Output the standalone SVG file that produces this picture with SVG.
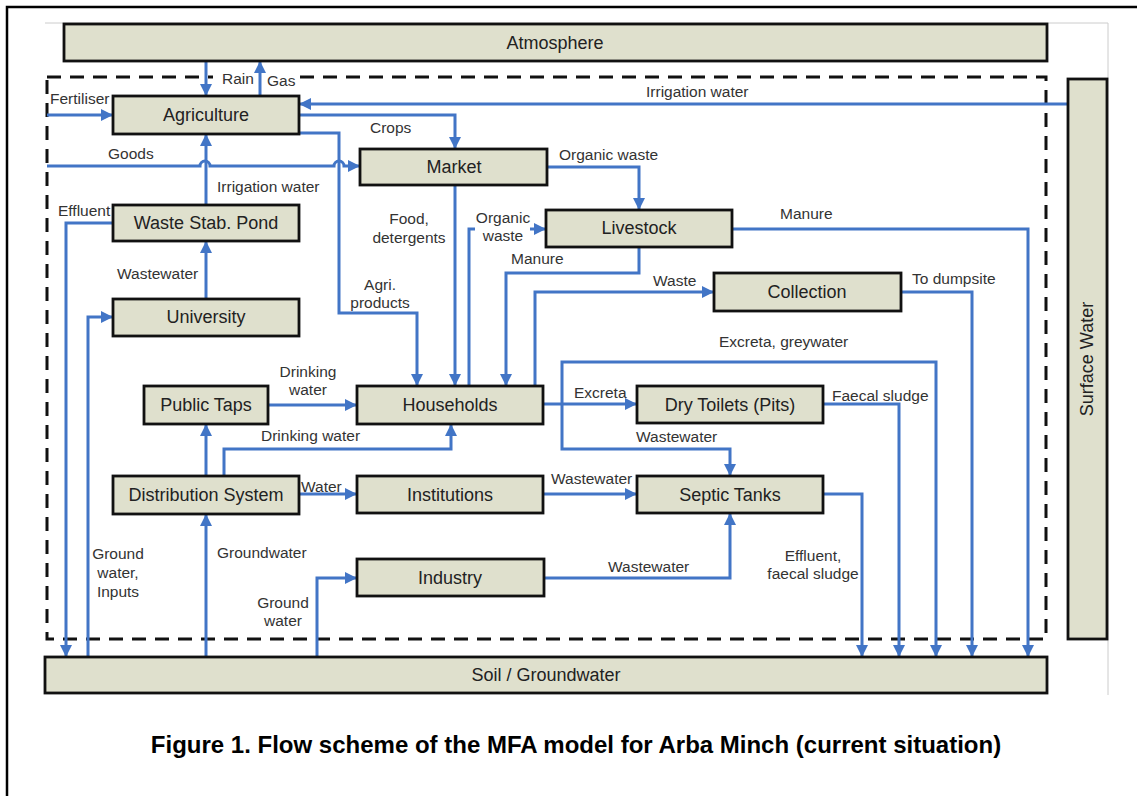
<svg xmlns="http://www.w3.org/2000/svg" width="1137" height="796" viewBox="0 0 1137 796">
<style>
.box{fill:#dfe0cd;stroke:#111;stroke-width:2.8}
.nt{font-family:"Liberation Sans",Arial,sans-serif;font-size:18px;fill:#222;text-anchor:middle}
.lb{font-family:"Liberation Sans",Arial,sans-serif;font-size:15.5px;fill:#333}
.mid{text-anchor:middle}
.fl{fill:none;stroke:#4275c6;stroke-width:3}
.ar{marker-end:url(#ah)}
</style>
<defs>
<marker id="ah" markerUnits="userSpaceOnUse" markerWidth="12" markerHeight="12" viewBox="0 0 12 12" refX="12" refY="6" orient="auto">
<path d="M0,0 L12,6 L0,12 z" fill="#4275c6"/>
</marker>
</defs>
<rect width="1137" height="796" fill="#fff"/>
<g id="frame">
<path d="M7,796 V7 H1137" fill="none" stroke="#000" stroke-width="2.5"/>
<path d="M45,23 H1108 V695" fill="none" stroke="#ccc" stroke-width="1"/>
<rect x="47" y="77" width="999" height="562" fill="none" stroke="#111" stroke-width="3" stroke-dasharray="14 9"/>
<rect x="213" y="71" width="86" height="13" fill="#fff"/>
</g>
<g id="connectors">
<path class="fl ar" d="M206,61 V96"/>
<path class="fl ar" d="M260,96 V61"/>
<path class="fl ar" d="M47,115 H113"/>
<path class="fl ar" d="M1068,104 H299"/>
<path class="fl ar" d="M299,115 H455 V149"/>
<path class="fl ar" d="M299,133 H339 V313 H417 V386"/>
<path class="fl ar" d="M47,166 H200 a5,5 0 0 1 10,0 H334 a5,5 0 0 1 10,0 H360"/>
<path class="fl ar" d="M206,205 V134"/>
<path class="fl ar" d="M113,223 H66 V657"/>
<path class="fl ar" d="M206,299 V241"/>
<path class="fl ar" d="M88,657 V317 H113"/>
<path class="fl ar" d="M206,657 V514"/>
<path class="fl ar" d="M317,657 V578 H357"/>
<path class="fl ar" d="M206,476 V424"/>
<path class="fl ar" d="M224,476 V449 H451 V424"/>
<path class="fl ar" d="M268,405 H357"/>
<path class="fl ar" d="M299,494 H357"/>
<path class="fl ar" d="M455,185 V386"/>
<path class="fl" d="M469,386 V229 H475"/>
<path class="fl ar" d="M530,229 H546"/>
<path class="fl ar" d="M547,167 H639 V210"/>
<path class="fl ar" d="M639,247 V273 H506 V386"/>
<path class="fl ar" d="M732,229 H1028 V657"/>
<path class="fl ar" d="M535,386 V292 H714"/>
<path class="fl ar" d="M901,292 H972 V657"/>
<path class="fl ar" d="M543,404 H637"/>
<path class="fl ar" d="M562,404 V362 H936 V657"/>
<path class="fl ar" d="M562,404 V449 H730 V476"/>
<path class="fl ar" d="M823,404 H899 V657"/>
<path class="fl ar" d="M543,494 H637"/>
<path class="fl ar" d="M544,578 H730 V513"/>
<path class="fl ar" d="M823,494 H862 V657"/>
</g>
<g id="labels">
<text class="lb" x="222" y="84">Rain</text>
<text class="lb" x="267" y="86">Gas</text>
<text class="lb" x="50" y="104">Fertiliser</text>
<text class="lb" x="646" y="97">Irrigation water</text>
<text class="lb" x="370" y="133">Crops</text>
<text class="lb" x="108" y="159">Goods</text>
<text class="lb" x="559" y="160">Organic waste</text>
<text class="lb" x="217" y="192">Irrigation water</text>
<text class="lb" x="58" y="216">Effluent</text>
<text class="lb mid" x="409" y="224">Food,</text>
<text class="lb mid" x="409" y="243">detergents</text>
<text class="lb mid" x="503" y="223">Organic</text>
<text class="lb mid" x="503" y="241">waste</text>
<text class="lb" x="780" y="219">Manure</text>
<text class="lb" x="511" y="264">Manure</text>
<text class="lb" x="117" y="279">Wastewater</text>
<text class="lb mid" x="380" y="290">Agri.</text>
<text class="lb mid" x="380" y="308">products</text>
<text class="lb" x="653" y="286">Waste</text>
<text class="lb" x="912" y="284">To dumpsite</text>
<text class="lb" x="719" y="347">Excreta, greywater</text>
<text class="lb mid" x="308" y="377">Drinking</text>
<text class="lb mid" x="308" y="395">water</text>
<text class="lb" x="574" y="398">Excreta</text>
<text class="lb" x="832" y="401">Faecal sludge</text>
<text class="lb" x="261" y="441">Drinking water</text>
<text class="lb" x="636" y="442">Wastewater</text>
<text class="lb" x="551" y="484">Wastewater</text>
<text class="lb" x="301" y="492">Water</text>
<text class="lb mid" x="118" y="559">Ground</text>
<text class="lb mid" x="118" y="578">water,</text>
<text class="lb mid" x="118" y="597">Inputs</text>
<text class="lb" x="217" y="558">Groundwater</text>
<text class="lb mid" x="813" y="561">Effluent,</text>
<text class="lb mid" x="813" y="579">faecal sludge</text>
<text class="lb" x="608" y="572">Wastewater</text>
<text class="lb mid" x="283" y="608">Ground</text>
<text class="lb mid" x="283" y="626">water</text>
</g>
<g id="atmosphere"><rect class="box" x="64" y="24" width="983" height="37"/><text class="nt" x="555" y="49">Atmosphere</text></g>
<g id="surface-water"><rect class="box" x="1068" y="79" width="39" height="560"/><text class="nt" x="1087" y="359" transform="rotate(-90 1087 359)" dy="6">Surface Water</text></g>
<g id="soil"><rect class="box" x="45" y="657" width="1002" height="36"/><text class="nt" x="546" y="681">Soil / Groundwater</text></g>
<g id="agriculture"><rect class="box" x="113" y="96" width="186" height="38"/><text class="nt" x="206" y="121">Agriculture</text></g>
<g id="market"><rect class="box" x="360" y="149" width="187" height="36"/><text class="nt" x="454" y="173">Market</text></g>
<g id="livestock"><rect class="box" x="546" y="210" width="186" height="37"/><text class="nt" x="639" y="234">Livestock</text></g>
<g id="waste-stab-pond"><rect class="box" x="113" y="205" width="186" height="36"/><text class="nt" x="206" y="229">Waste Stab. Pond</text></g>
<g id="university"><rect class="box" x="113" y="299" width="186" height="37"/><text class="nt" x="206" y="323">University</text></g>
<g id="collection"><rect class="box" x="714" y="273" width="187" height="38"/><text class="nt" x="807" y="298">Collection</text></g>
<g id="public-taps"><rect class="box" x="144" y="386" width="124" height="38"/><text class="nt" x="206" y="411">Public Taps</text></g>
<g id="households"><rect class="box" x="357" y="386" width="186" height="38"/><text class="nt" x="450" y="411">Households</text></g>
<g id="dry-toilets"><rect class="box" x="637" y="386" width="186" height="37"/><text class="nt" x="730" y="411">Dry Toilets (Pits)</text></g>
<g id="distribution-system"><rect class="box" x="113" y="476" width="186" height="38"/><text class="nt" x="206" y="501">Distribution System</text></g>
<g id="institutions"><rect class="box" x="357" y="476" width="186" height="37"/><text class="nt" x="450" y="501">Institutions</text></g>
<g id="septic-tanks"><rect class="box" x="637" y="476" width="186" height="37"/><text class="nt" x="730" y="501">Septic Tanks</text></g>
<g id="industry"><rect class="box" x="357" y="559" width="187" height="37"/><text class="nt" x="450" y="584">Industry</text></g>
<g id="caption"><text x="576" y="753" font-family="Liberation Sans, Arial, sans-serif" font-size="24" font-weight="bold" text-anchor="middle" fill="#000">Figure 1. Flow scheme of the MFA model for Arba Minch (current situation)</text></g>
</svg>
